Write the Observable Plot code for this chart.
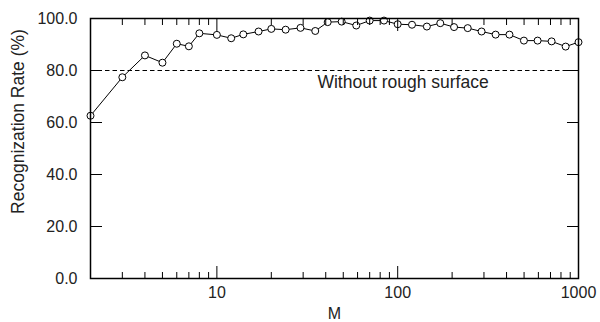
<!DOCTYPE html>
<html><head><meta charset="utf-8">
<script src="https://cdn.jsdelivr.net/npm/d3@7"></script>
<script src="https://cdn.jsdelivr.net/npm/@observablehq/plot@0.6"></script>
<style>body{margin:0;background:#fff} svg{font-family:"Liberation Sans",Arial,sans-serif}</style>
</head><body><div id="chart"></div>
<script>
// data
const M = [2, 3, 4, 5, 6, 7, 8, 10, 12, 14, 17, 20, 24, 29, 35, 41, 49, 59, 70, 84, 100, 120, 145, 172, 205, 244, 291, 348, 415, 499, 594, 710, 849, 1000];
const rate = [62.6, 77.4, 85.8, 83.0, 90.3, 89.3, 94.3, 93.7, 92.4, 93.9, 95.0, 96.0, 95.7, 96.4, 95.2, 98.6, 98.8, 97.3, 99.2, 99.2, 97.8, 97.6, 96.9, 98.2, 96.7, 96.3, 95.0, 93.8, 93.8, 91.5, 91.5, 91.2, 89.2, 90.9];
const refRate = 80;
const refLabel = "Without rough surface";
const refLabelM = 36;
const xMajor = [10, 100, 1000];
const xMinor = [2, 3, 4, 5, 6, 7, 8, 9, 20, 30, 40, 50, 60, 70, 80, 90, 200, 300, 400, 500, 600, 700, 800, 900];
const yTicks = [0, 20, 40, 60, 80, 100];
const xLabel = "M";
const yLabel = "Recognization Rate (%)";

const data = M.map((m, i) => ({M: m, rate: rate[i]}));
const font = "'Liberation Sans', Arial, sans-serif";

const chart = Plot.plot({
  width: 600, height: 322,
  marginLeft: 90, marginRight: 22, marginTop: 18, marginBottom: 44,
  style: {fontSize: "16px", fontFamily: font, background: "white", color: "black"},
  x: {type: "log", domain: [2, 1000]},
  y: {domain: [0, 100]},
  marks: [
    Plot.ruleY([refRate], {stroke: "black", strokeWidth: 1, strokeDasharray: "4.5,3"}),
    Plot.text([refLabel], {x: refLabelM, y: refRate, text: d => d, textAnchor: "start", dy: 12, fontSize: 17.5, fill: "#222"}),
    Plot.line(data, {x: "M", y: "rate", stroke: "black", strokeWidth: 1}),
    Plot.dot(data, {x: "M", y: "rate", r: 3.5, fill: "white", stroke: "black", strokeWidth: 1}),
    // bottom axis ticks (inward)
    Plot.axisX(xMajor, {anchor: "bottom", tickSize: -12, fill: "none", label: null, stroke: "black"}),
    Plot.axisX(xMinor, {anchor: "bottom", tickSize: -6, fill: "none", label: null, stroke: "black"}),
    Plot.axisX(xMajor, {anchor: "bottom", tickSize: 0, tickPadding: 8, label: null, tickFormat: d => String(d), fill: "#222"}),
    // top mirror ticks
    Plot.axisX(xMajor, {anchor: "top", tickSize: -12, fill: "none", label: null, stroke: "black"}),
    Plot.axisX(xMinor, {anchor: "top", tickSize: -6, fill: "none", label: null, stroke: "black"}),
    // y ticks
    Plot.axisY(yTicks, {anchor: "left", tickSize: -12, fill: "none", label: null, stroke: "black"}),
    Plot.axisY(yTicks, {anchor: "right", tickSize: -12, fill: "none", label: null, stroke: "black"}),
    Plot.axisY(yTicks, {anchor: "left", tickSize: 0, tickPadding: 13, label: null, tickFormat: d3.format(".1f"), fill: "#222"}),
    Plot.frame({stroke: "black", strokeWidth: 1.5}),
    Plot.text([yLabel], {frameAnchor: "left", text: d => d, rotate: -90, textAnchor: "middle", dx: -72, dy: -27, fontSize: 17.5, fill: "#222"}),
    Plot.text([xLabel], {frameAnchor: "bottom", text: d => d, dy: 40, fontSize: 16, fill: "#222"})
  ]
});
document.getElementById("chart").appendChild(chart);
</script>
</body></html>
